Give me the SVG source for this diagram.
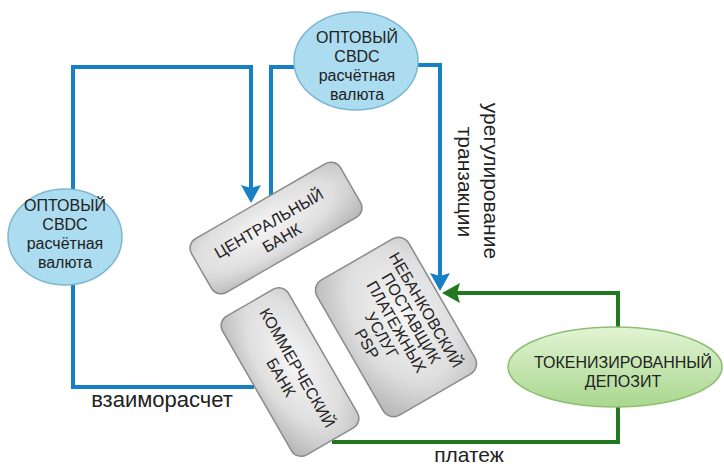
<svg xmlns="http://www.w3.org/2000/svg" width="724" height="467" viewBox="0 0 724 467">
  <style>
    .lbl { font-family: "Liberation Sans", Arial, sans-serif; fill: #222; }
    .node-txt { font-family: "Liberation Sans", Arial, sans-serif; font-size: 16px; fill: #222; text-anchor: middle; }
    .cbdc { fill: #acdcef; stroke: #7db7d1; stroke-width: 1.5; }
    .box { fill: url(#boxFill); stroke: #8a8a8a; stroke-width: 1.5; }
    .blue { fill: none; stroke: #1580c4; stroke-width: 4; }
    .green { fill: none; stroke: #22781f; stroke-width: 4; }
  </style>
  <defs>
    <radialGradient id="boxFill" cx="0.45" cy="0.4" r="0.75">
      <stop offset="0" stop-color="#f6f6f6"/>
      <stop offset="0.6" stop-color="#dedede"/>
      <stop offset="1" stop-color="#b9b9b9"/>
    </radialGradient>
    <linearGradient id="greenFill" x1="0" y1="0" x2="0" y2="1">
      <stop offset="0" stop-color="#e2f4d3"/>
      <stop offset="1" stop-color="#a9d78e"/>
    </linearGradient>
    <marker id="arrowBlue" markerUnits="userSpaceOnUse" markerWidth="18" markerHeight="20" refX="8" refY="10" orient="auto">
      <path d="M0,0 L18,10 L0,20 L3,10 z" fill="#1580c4"/>
    </marker>
    <marker id="arrowGreen" markerUnits="userSpaceOnUse" markerWidth="18" markerHeight="20" refX="8" refY="10" orient="auto">
      <path d="M0,0 L18,10 L0,20 L3,10 z" fill="#22781f"/>
    </marker>
  </defs>

  <!-- connectors -->
  <g id="connectors">
    <path class="blue" d="M73,190 V67 H251 V193" marker-end="url(#arrowBlue)"/>
    <path class="blue" d="M296,67 H271 V198"/>
    <path class="blue" d="M418,65 H440 V281" marker-end="url(#arrowBlue)"/>
    <path class="blue" d="M73,285 V387 H254"/>
    <path class="green" d="M618,328 V293 H452" marker-end="url(#arrowGreen)"/>
    <path class="green" d="M618,406 V442 H332"/>
  </g>

  <!-- edge labels -->
  <text class="lbl" x="162" y="407" font-size="22" text-anchor="middle">взаиморасчет</text>
  <text class="lbl" x="469" y="462" font-size="21" text-anchor="middle">платеж</text>
  <text class="lbl" transform="translate(491,181) rotate(90)" y="7" font-size="21" text-anchor="middle">урегулирование</text>
  <text class="lbl" transform="translate(465,182) rotate(90)" y="7" font-size="21" text-anchor="middle">транзакции</text>

  <!-- wholesale CBDC, top -->
  <g id="cbdc-top">
    <ellipse class="cbdc" cx="356" cy="61" rx="62" ry="49"/>
    <text class="node-txt" x="357" y="43">ОПТОВЫЙ</text>
    <text class="node-txt" x="357" y="62">CBDC</text>
    <text class="node-txt" x="357" y="81">расчётная</text>
    <text class="node-txt" x="357" y="100">валюта</text>
  </g>

  <!-- wholesale CBDC, left -->
  <g id="cbdc-left">
    <ellipse class="cbdc" cx="65" cy="237" rx="57" ry="48"/>
    <text class="node-txt" x="65" y="211">ОПТОВЫЙ</text>
    <text class="node-txt" x="65" y="230">CBDC</text>
    <text class="node-txt" x="65" y="249">расчётная</text>
    <text class="node-txt" x="65" y="268">валюта</text>
  </g>

  <!-- central bank -->
  <g id="central-bank" transform="translate(276,228) rotate(-30)">
    <rect class="box" x="-86" y="-31" width="172" height="62" rx="11"/>
    <text class="node-txt" x="-4" y="-2">ЦЕНТРАЛЬНЫЙ</text>
    <text class="node-txt" x="0" y="17">БАНК</text>
  </g>

  <!-- commercial bank -->
  <g id="commercial-bank" transform="translate(290,372) rotate(60)">
    <rect class="box" x="-80" y="-38" width="160" height="76" rx="11"/>
    <text class="node-txt" x="0" y="-3">КОММЕРЧЕСКИЙ</text>
    <text class="node-txt" x="0" y="16">БАНК</text>
  </g>

  <!-- non-bank payment service provider -->
  <g id="psp" transform="translate(396,327) rotate(60)">
    <rect class="box" x="-78" y="-53" width="156" height="106" rx="12"/>
    <text class="node-txt" x="0" y="-29">НЕБАНКОВСКИЙ</text>
    <text class="node-txt" x="0" y="-12">ПОСТАВЩИК</text>
    <text class="node-txt" x="0" y="5">ПЛАТЕЖНЫХ</text>
    <text class="node-txt" x="0" y="22">УСЛУГ</text>
    <text class="node-txt" x="0" y="39">PSP</text>
  </g>

  <!-- tokenized deposit -->
  <g id="tokenized-deposit">
    <ellipse cx="615" cy="367" rx="107" ry="40" fill="url(#greenFill)" stroke="#8dbf73" stroke-width="1.5"/>
    <text class="node-txt" x="623" y="368" font-size="17">ТОКЕНИЗИРОВАННЫЙ</text>
    <text class="node-txt" x="623" y="387" font-size="17">ДЕПОЗИТ</text>
  </g>
</svg>
